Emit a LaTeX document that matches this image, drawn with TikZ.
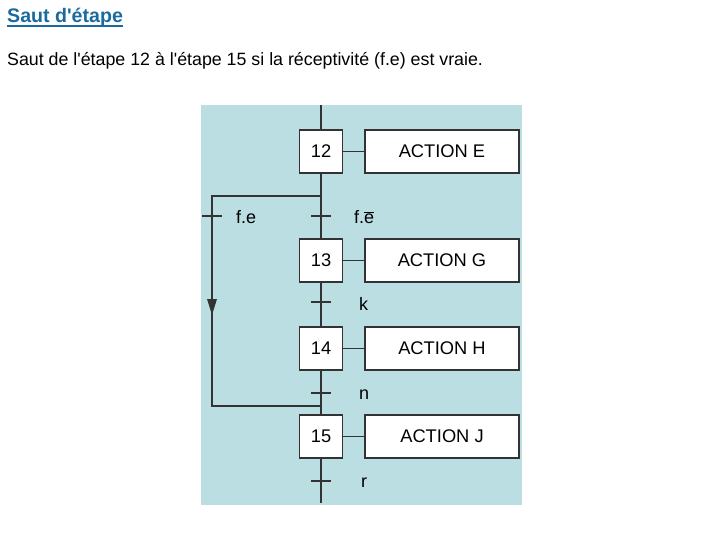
\documentclass[tikz,border=0pt]{standalone}
\usepackage{fontspec}
\setmainfont[Ligatures=TeXOff]{Liberation Sans}
\usetikzlibrary{arrows.meta}
\definecolor{panel}{RGB}{187,222,227}
\definecolor{ln}{RGB}{51,51,51}
\definecolor{titleblue}{RGB}{26,106,160}
\begin{document}
\begin{tikzpicture}[x=1pt,y=-1pt,
  stepbox/.style={draw=ln,line width=1.1pt,fill=white,minimum width=43pt,minimum height=43pt,inner sep=0pt,font=\fontsize{18.3}{20}\selectfont},
  actbox/.style={draw=ln,line width=1.1pt,fill=white,minimum width=154pt,minimum height=43pt,inner sep=0pt,font=\fontsize{18.3}{20}\selectfont},
  wire/.style={draw=ln,line width=1.1pt},
  lab/.style={anchor=west,inner sep=0pt,font=\fontsize{18}{20}\selectfont}]
\useasboundingbox (0,0) rectangle (720,540);
\fill[panel] (201,105) rectangle (522,505);
% title
\node[anchor=base west,inner sep=0pt,text=titleblue,font=\fontsize{19.6}{22}\bfseries\selectfont] (title) at (7,22.7) {Saut d'étape};
\draw[titleblue,line width=1.8pt] ([yshift=-3.5pt]title.base west) -- ([yshift=-3.5pt]title.base east);
\node[anchor=base west,inner sep=0pt,font=\fontsize{17.8}{20}\selectfont] (sub) at (7,66) {Saut de l'étape 12 à l'étape 15 si la réceptivité (f.e) est vraie.};
% coordinates
\coordinate (top) at (321,105);
\coordinate (bot) at (321,503);
\coordinate (t1) at (321,216);
\coordinate (t2) at (321,302);
\coordinate (t3) at (321,393);
\coordinate (t4) at (321,481);
\coordinate (split) at (321,196);
\coordinate (bl1) at (212,196);
\coordinate (bl2) at (212,406);
\coordinate (join) at (321,406);
\coordinate (tf) at (212,216);
% main line
\draw[wire] (top) -- (bot);
% steps
\node[stepbox] (s12) at (321,151.5) {12};
\node[stepbox] (s13) at (321,260.5) {13};
\node[stepbox] (s14) at (321,348.5) {14};
\node[stepbox] (s15) at (321,436.5) {15};
\node[actbox] (a12) at (442,151.5) {ACTION E};
\node[actbox] (a13) at (442,260.5) {ACTION G};
\node[actbox] (a14) at (442,348.5) {ACTION H};
\node[actbox] (a15) at (442,436.5) {ACTION J};
\foreach \n in {12,13,14,15} \draw[wire] (s\n) -- (a\n);
% jump branch
\draw[wire] (split) -- (bl1) -- (bl2) -- (join);
\fill[ln] (207,299) -- (217,299) -- (212,315) -- cycle;
% transitions
\foreach \t in {t1,t2,t3,t4,tf} \draw[wire] ([xshift=-10pt]\t) -- ([xshift=10pt]\t);
\node[lab,anchor=base west] (l1) at (354,223) {f.$\overline{\mbox{e}}$};
\node[lab,anchor=base west] (lf) at (236,223) {f.e};
\node[lab,anchor=base west] (l2) at (359,310) {k};
\node[lab,anchor=base west] (l3) at (359,399) {n};
\node[lab,anchor=base west] (l4) at (361,487) {r};
\end{tikzpicture}
\end{document}
